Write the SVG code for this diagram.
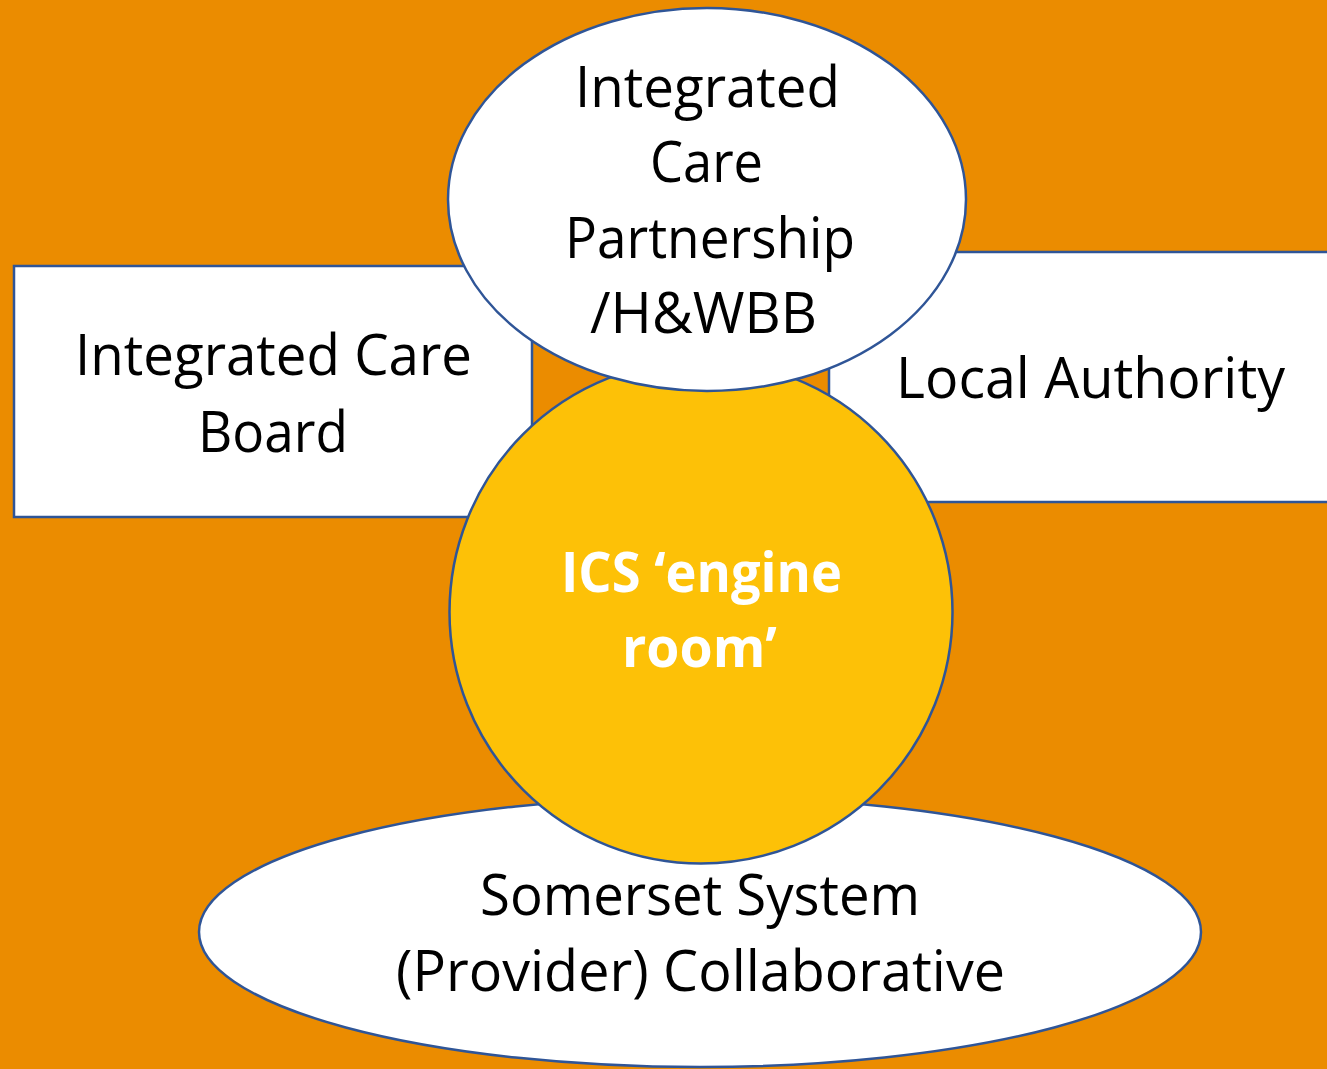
<svg xmlns="http://www.w3.org/2000/svg" width="1327" height="1069" viewBox="0 0 1327 1069">
<style>
.shape{stroke:#2F5597;stroke-width:2.5}
.white{fill:#FFFFFF}
.t{font-family:"Open Sans","Noto Sans","Liberation Sans",sans-serif;font-size:57px;fill:#000000}
.tb{font-family:"Open Sans","Noto Sans","Liberation Sans",sans-serif;font-size:56px;font-weight:bold;fill:#FFFFFF}
</style>
<rect x="0" y="0" width="1327" height="1069" fill="#EB8C00"/>
<g id="connectors"/>
<g id="icb">
<rect class="shape white" x="14" y="266" width="518" height="251"/>
<text class="t" x="75" y="375" textLength="397" lengthAdjust="spacingAndGlyphs">Integrated Care</text>
<text class="t" x="198" y="452" textLength="150" lengthAdjust="spacingAndGlyphs">Board</text>
</g>
<g id="local-authority">
<rect class="shape white" x="829" y="252" width="510" height="250"/>
<text class="t" x="896" y="398" textLength="389" lengthAdjust="spacingAndGlyphs">Local Authority</text>
</g>
<g id="collaborative">
<ellipse class="shape white" cx="700" cy="932" rx="501" ry="135"/>
<text class="t" x="480" y="915" textLength="440" lengthAdjust="spacingAndGlyphs">Somerset System</text>
<text class="t" x="396" y="991" textLength="609" lengthAdjust="spacingAndGlyphs">(Provider) Collaborative</text>
</g>
<g id="engine-room">
<circle class="shape" cx="701" cy="612" r="251.5" fill="#FDC107"/>
<text class="tb" x="561" y="592" textLength="281" lengthAdjust="spacingAndGlyphs">ICS ‘engine</text>
<text class="tb" x="622" y="667" textLength="155" lengthAdjust="spacingAndGlyphs">room’</text>
</g>
<g id="icp">
<ellipse class="shape white" cx="707" cy="199.5" rx="259" ry="191.5"/>
<text class="t" x="575" y="107" textLength="265" lengthAdjust="spacingAndGlyphs">Integrated</text>
<text class="t" x="650" y="182" textLength="113" lengthAdjust="spacingAndGlyphs">Care</text>
<text class="t" x="565" y="258" textLength="290" lengthAdjust="spacingAndGlyphs">Partnership</text>
<text class="t" x="590" y="333" textLength="227" lengthAdjust="spacingAndGlyphs">/H&amp;WBB</text>
</g>
</svg>
